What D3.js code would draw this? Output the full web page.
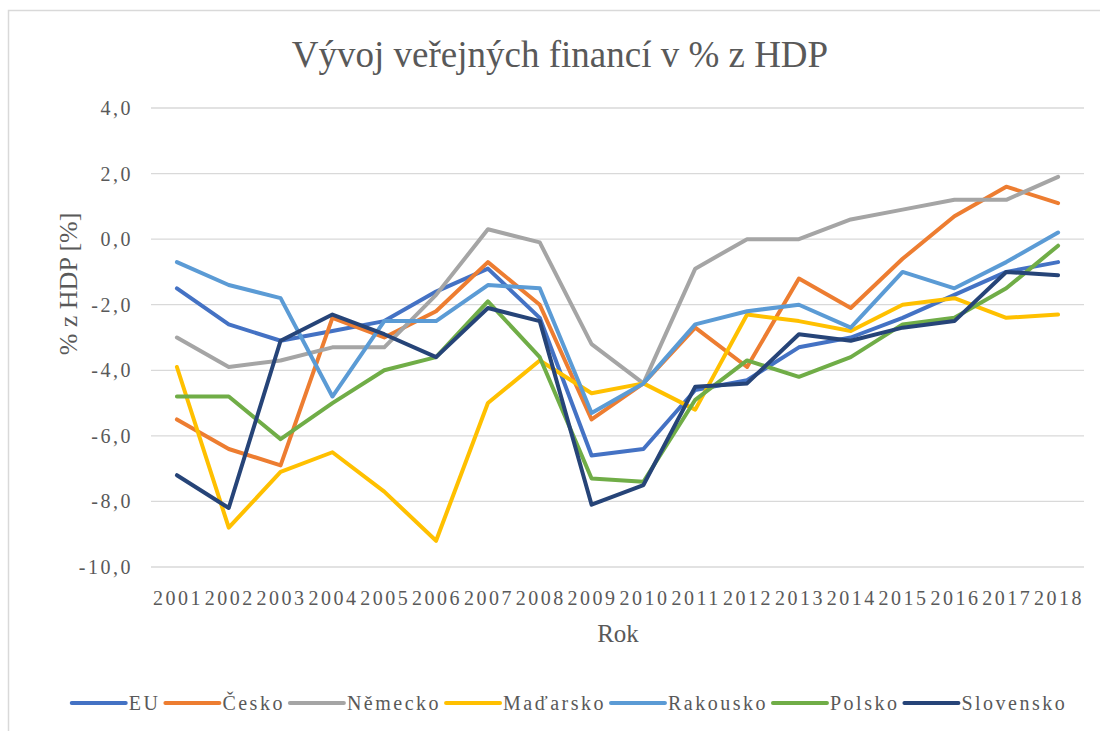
<!DOCTYPE html>
<html>
<head>
<meta charset="utf-8">
<script src="https://cdn.jsdelivr.net/npm/d3@7"></script>
<style>
  body { margin: 0; background: #fff; }
  svg text { font-family: "Liberation Serif", "Times New Roman", Tinos, "DejaVu Serif", serif; fill: #595959; }
</style>
</head>
<body>
<svg width="1100" height="731"></svg>
<script>
// data
var years = ["2001","2002","2003","2004","2005","2006","2007","2008","2009",
  "2010","2011","2012","2013","2014","2015","2016","2017","2018"];
var yTicks = [4, 2, 0, -2, -4, -6, -8, -10];

var eu =        [-1.5,-2.6,-3.1,-2.8,-2.5,-1.6,-0.9,-2.4,-6.6,-6.4,-4.6,-4.3,-3.3,-3.0,-2.4,-1.7,-1.0,-0.7];
var cesko =     [-5.5,-6.4,-6.9,-2.4,-3.0,-2.2,-0.7,-2.0,-5.5,-4.4,-2.7,-3.9,-1.2,-2.1,-0.6, 0.7, 1.6, 1.1];
var nemecko =   [-3.0,-3.9,-3.7,-3.3,-3.3,-1.7, 0.3,-0.1,-3.2,-4.4,-0.9, 0.0, 0.0, 0.6, 0.9, 1.2, 1.2, 1.9];
var madarsko =  [-3.9,-8.8,-7.1,-6.5,-7.7,-9.2,-5.0,-3.7,-4.7,-4.4,-5.2,-2.3,-2.5,-2.8,-2.0,-1.8,-2.4,-2.3];
var rakousko =  [-0.7,-1.4,-1.8,-4.8,-2.5,-2.5,-1.4,-1.5,-5.3,-4.4,-2.6,-2.2,-2.0,-2.7,-1.0,-1.5,-0.7, 0.2];
var polsko =    [-4.8,-4.8,-6.1,-5.0,-4.0,-3.6,-1.9,-3.6,-7.3,-7.4,-4.9,-3.7,-4.2,-3.6,-2.6,-2.4,-1.5,-0.2];
var slovensko = [-7.2,-8.2,-3.1,-2.3,-2.9,-3.6,-2.1,-2.5,-8.1,-7.5,-4.5,-4.4,-2.9,-3.1,-2.7,-2.5,-1.0,-1.1];

var series = [
  { name: "EU", values: eu, color: "#4472c4" },
  { name: "Česko", values: cesko, color: "#ed7d31" },
  { name: "Německo", values: nemecko, color: "#a5a5a5" },
  { name: "Maďarsko", values: madarsko, color: "#ffc000" },
  { name: "Rakousko", values: rakousko, color: "#5b9bd5" },
  { name: "Polsko", values: polsko, color: "#70ad47" },
  { name: "Slovensko", values: slovensko, color: "#264478" }
];

var svg = d3.select("svg");

// chart frame
svg.append("rect")
  .attr("x", 8.5).attr("y", 10.5)
  .attr("width", 1130).attr("height", 760)
  .attr("fill", "none")
  .attr("stroke", "#d9d9d9")
  .attr("stroke-width", 1.5);

var x = d3.scalePoint().domain(years).range([151, 1084]).padding(0.5);
var y = d3.scaleLinear().domain([-10, 4]).range([567, 108]);

// gridlines
svg.append("g")
  .selectAll("line")
  .data(yTicks)
  .enter()
  .append("line")
  .attr("x1", 151).attr("x2", 1084)
  .attr("y1", d => y(d)).attr("y2", d => y(d))
  .attr("stroke", "#d9d9d9")
  .attr("stroke-width", 1.3);

// y tick labels
var fmt = d => d.toFixed(1).replace(".", ",");
svg.append("g")
  .selectAll("text")
  .data(yTicks)
  .enter()
  .append("text")
  .attr("x", 133)
  .attr("y", d => y(d) + 7)
  .attr("text-anchor", "end")
  .style("font-size", "20px")
  .style("letter-spacing", "2.5px")
  .text(fmt);

// x tick labels
svg.append("g")
  .selectAll("text")
  .data(years)
  .enter()
  .append("text")
  .attr("x", d => x(d) + 1)
  .attr("y", 605)
  .attr("text-anchor", "middle")
  .style("font-size", "20px")
  .style("letter-spacing", "2.5px")
  .text(d => d);

// lines
var line = d3.line()
  .x((d, i) => x(years[i]))
  .y(d => y(d));

svg.append("g")
  .selectAll("path")
  .data(series)
  .enter()
  .append("path")
  .attr("d", d => line(d.values))
  .attr("fill", "none")
  .attr("stroke", d => d.color)
  .attr("stroke-width", 4)
  .attr("stroke-linejoin", "round")
  .attr("stroke-linecap", "round");

// titles
svg.append("text")
  .attr("x", 560).attr("y", 67)
  .attr("text-anchor", "middle")
  .style("font-size", "37px")
  .text("Vývoj veřejných financí v % z HDP");

svg.append("text")
  .attr("x", 618).attr("y", 642)
  .attr("text-anchor", "middle")
  .style("font-size", "25px")
  .text("Rok");

svg.append("text")
  .attr("transform", "translate(77,284) rotate(-90)")
  .attr("text-anchor", "middle")
  .style("font-size", "26px")
  .text("% z HDP [%]");

// legend
var legend = svg.append("g");
var items = legend.selectAll("g")
  .data(series)
  .enter()
  .append("g");

items.append("line")
  .attr("x1", 0).attr("x2", 54)
  .attr("y1", 0).attr("y2", 0)
  .attr("stroke", d => d.color)
  .attr("stroke-width", 4)
  .attr("stroke-linecap", "round");

items.append("text")
  .attr("x", 57)
  .attr("y", 7)
  .style("font-size", "20px")
  .style("letter-spacing", "2.5px")
  .text(d => d.name);

var pos = 0;
items.each(function() {
  var w = d3.select(this).select("text").node().getComputedTextLength();
  d3.select(this).attr("transform", "translate(" + pos + ",0)");
  pos += 57 + w + 5;
});
legend.attr("transform", "translate(" + (572 - pos / 2) + ",703)");
</script>
</body>
</html>
